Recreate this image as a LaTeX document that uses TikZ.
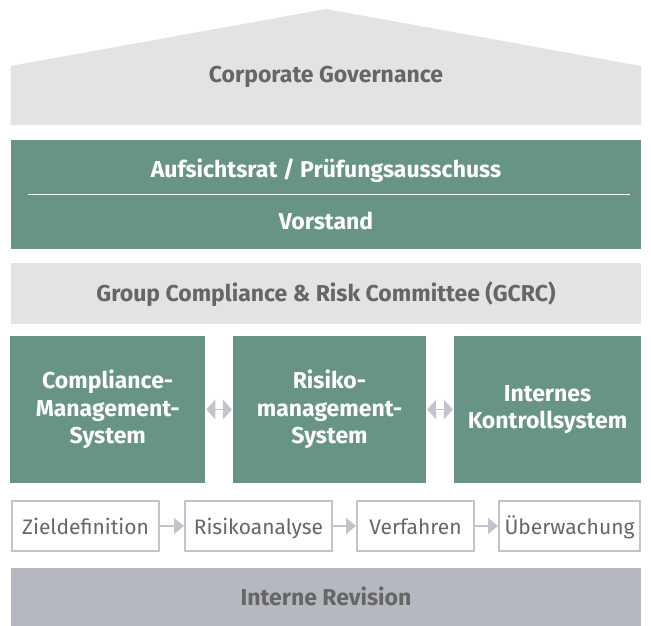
\documentclass[tikz,border=0pt]{standalone}
\usepackage{fontspec}
\setmainfont{Fira Sans}
\usetikzlibrary{arrows.meta}
\definecolor{cgreen}{HTML}{679486}
\definecolor{clight}{HTML}{E3E3E3}
\definecolor{cblue}{HTML}{B5B8C0}
\definecolor{ctext}{HTML}{666666}
\definecolor{cline}{HTML}{C1C4CB}
\tikzset{
  x=1pt, y=-1pt,
  bandtext/.style={font=\fontsize{23}{27}\selectfont\bfseries, text=ctext, inner sep=0pt,
    text height=15.9pt, text depth=0pt},
  greenbox/.style={fill=cgreen, draw=none, inner sep=0pt, align=center,
    text=white, font=\fontsize{23}{27.5}\selectfont\bfseries},
  greentext/.style={inner sep=0pt, text=white, font=\fontsize{23}{27}\selectfont\bfseries,
    text height=15.9pt, text depth=0pt},
  graybox/.style={fill=clight, draw=none, inner sep=0pt},
  bluebox/.style={fill=cblue, draw=none, inner sep=0pt},
  procbox/.style={draw=cline, line width=2pt, fill=white, inner sep=0pt},
  proctext/.style={inner sep=0pt, text=ctext, font=\fontsize{21}{25}\selectfont,
    text height=14.5pt, text depth=0pt},
  procarrow/.style={draw=cline, line width=1.5pt,
    -{Triangle[length=10pt,width=16pt]}},
  dblarrow/.style={draw=cline, line width=1pt, shorten <=1pt, shorten >=1pt,
    {Triangle[length=9pt,width=20pt]}-{Triangle[length=9pt,width=20pt]}},
}
\begin{document}
\begin{tikzpicture}
\useasboundingbox (0,0) rectangle (651,626);
% roof
\fill[clight] (10.5,125) -- (10.5,66) -- (326,9) -- (641,66) -- (641,125) -- cycle;
\node[bandtext] (cg) at (326,75) {Corporate Governance};
% board
\node[greenbox, minimum width=630.5pt, minimum height=109pt] (board) at (325.75,194.5) {};
\node[greentext] (ar) at (326,170) {Aufsichtsrat / Prüfungsausschuss};
\node[greentext] (vs) at (326,222) {Vorstand};
\draw[white, line width=1pt] (28,194) -- (630,194);
% GCRC
\node[graybox, minimum width=630.5pt, minimum height=61pt] (gcrc) at (325.75,293.5) {};
\node[bandtext] (gcrct) at (326,293.5) {Group Compliance \& Risk Committee (GCRC)};
% three systems
\node[greenbox, minimum width=195pt, minimum height=147pt] (cms) at (107.75,409.5) {Compliance-\\Management-\\System};
\node[greenbox, minimum width=193pt, minimum height=147pt] (rms) at (329.5,409.5) {Risiko-\\management-\\System};
\node[greenbox, minimum width=187pt, minimum height=147pt] (iks) at (547.5,409.5) {Internes\\Kontrollsystem};
\draw[dblarrow] (cms.east) -- (rms.west);
\draw[dblarrow] (rms.east) -- (iks.west);
% process
\node[procbox, minimum width=147pt, minimum height=50pt] (p1) at (85.5,526) {};
\node[procbox, minimum width=147pt, minimum height=50pt] (p2) at (258.5,526) {};
\node[procbox, minimum width=117pt, minimum height=50pt] (p3) at (415.5,526) {};
\node[procbox, minimum width=141pt, minimum height=50pt] (p4) at (569.5,526) {};
\node[proctext] (t1) at (85.5,527) {Zieldefinition};
\node[proctext] (t2) at (258.5,527) {Risikoanalyse};
\node[proctext] (t3) at (415.5,527) {Verfahren};
\node[proctext] (t4) at (569.5,527) {Überwachung};
\draw[procarrow] (p1.east) -- (p2.west);
\draw[procarrow] (p2.east) -- (p3.west);
\draw[procarrow] (p3.east) -- (p4.west);
% internal audit
\node[bluebox, minimum width=630.5pt, minimum height=58pt] (ir) at (325.75,597) {};
\node[bandtext] (irt) at (326,598) {Interne Revision};
\end{tikzpicture}
\end{document}
